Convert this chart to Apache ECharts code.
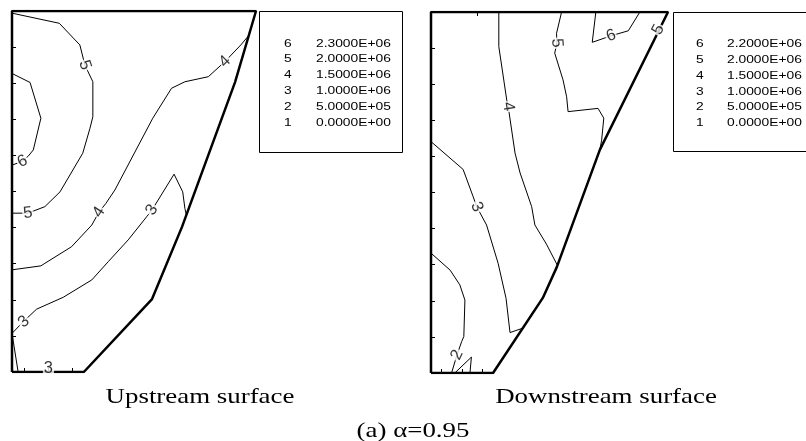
<!DOCTYPE html>
<html>
<head>
<meta charset="utf-8">
<script src="https://cdn.jsdelivr.net/npm/echarts@6/dist/echarts.min.js"></script>
<style>
html, body { margin: 0; padding: 0; background: #fff; }
#chart { width: 806px; height: 441px; }
</style>
</head>
<body>
<div id="chart"></div>
<script>
// contour levels and their values (legend)
const levels = ['6', '5', '4', '3', '2', '1']
const upValues = ['2.3000E+06', '2.0000E+06', '1.5000E+06', '1.0000E+06', '5.0000E+05', '0.0000E+00']
const dnValues = ['2.2000E+06', '2.0000E+06', '1.5000E+06', '1.0000E+06', '5.0000E+05', '0.0000E+00']
const captions = ['Upstream surface', 'Downstream surface', '(a) \u03b1=0.95']

// dam section outlines (x, y in section units)
const upOutline = [[0, 0], [0, 100], [67.6, 100], [61.8, 80.3], [47.1, 40.2], [38.8, 20.2], [19.9, 0], [0, 0]]
const dnOutline = [[0, 0], [0, 100], [65.7, 100], [46.8, 61.8], [34.9, 29.4], [31.0, 20.8], [17.2, 0], [0, 0]]

// upstream surface contours
const up5 = [[0, 99.4], [13.1, 96.6], [18.8, 90.6], [20.2, 85.0], [22.4, 80.4], [22.4, 70.7], [21.6, 67.5], [19.6, 60.6], [13.3, 49.9], [9.1, 45.8], [4.4, 44.0], [0, 44.0]]
const up6 = [[0, 82.7], [5.0, 80.2], [8.0, 70.3], [5.9, 61.5], [4.5, 59.8], [2.7, 58.3], [0, 57.3]]
const up4 = [[65.5, 93.1], [63.4, 90.6], [59.0, 86.0], [54.4, 81.8], [47.9, 80.4], [44.2, 78.6], [39.0, 70.3], [28.5, 50.4], [26.0, 46.7], [24.1, 44.3], [22.1, 40.7], [16.5, 34.7], [9.1, 30.1], [8.0, 29.4], [0, 28.3]]
const up3 = [[48.3, 43.5], [47.9, 45.3], [47.3, 49.9], [44.9, 54.8], [38.8, 44.9], [37.3, 43.0], [32.2, 36.6], [26.7, 30.6], [22.1, 25.5], [14.2, 20.7], [6.8, 17.4], [3.1, 13.9], [0, 10.7]]
const up3b = [[0, 10.7], [1.7, 0]]
const upLabels = [
    [20.2, 85.0, '5', -71], [2.9, 58.3, '6', 25], [4.4, 44.0, '5', 8],
    [24.1, 44.3, '4', 57], [59.0, 86.0, '4', 44], [38.8, 44.9, '3', 57],
    [3.3, 13.9, '3', 40], [10.1, 1.0, '3', 0]
]

// downstream surface contours
const dn4 = [[18.8, 100], [18.8, 90.4], [21.0, 75.6], [21.4, 73.8], [23.3, 60.9], [24.7, 55.4], [27.9, 46.1], [28.8, 41.0], [32.0, 35.7], [35.0, 29.9]]
const dn5 = [[36.2, 100], [34.8, 94.1], [34.9, 91.4], [34.3, 88.6], [36.6, 81.2], [37.6, 76.5], [38.0, 72.4], [46.3, 73.3], [47.9, 70.6], [47.3, 64.5], [46.8, 61.8]]
const dn6 = [[45.7, 100], [44.7, 91.6], [49.9, 93.4], [54.7, 94.8], [57.9, 100]]
const dn3 = [[0, 64.1], [8.9, 56.4], [11.7, 48.8], [12.7, 46.0], [15.4, 41.0], [18.6, 30.4], [20.8, 20.7], [21.9, 11.2], [25.4, 12.4]]
const dn2 = [[0, 33.2], [5.3, 28.5], [8.0, 24.4], [9.4, 20.2], [9.1, 10.1], [8.5, 8.7], [7.2, 5.0], [5.7, 0]]
const dn2b = [[6.6, 0], [11.2, 4.4], [10.8, 0]]
const dnLabels = [
    [21.4, 73.8, '4', -81], [34.9, 91.4, '5', -85], [49.9, 93.4, '6', 19],
    [63.0, 95.1, '5', 63], [12.7, 46.0, '3', -67], [7.2, 5.0, '2', 65]
]

// small ticks on the section edges
const upBottomTicks = [3.3, 10, 16.6]
const dnBottomTicks = [2.9, 8.6, 14.3]
const dnTopTicks = [12.9]

const chart = echarts.init(document.getElementById('chart'))

const lineSeries = (data, gi, width) => ({
    type: 'line',
    xAxisIndex: gi,
    yAxisIndex: gi,
    data: data,
    symbol: 'none',
    silent: true,
    animation: false,
    z: 2,
    lineStyle: { color: '#000', width: width },
})

const labelSeries = (items, gi) => ({
    type: 'scatter',
    xAxisIndex: gi,
    yAxisIndex: gi,
    symbolSize: 0,
    silent: true,
    animation: false,
    z: 5,
    label: {
        show: true,
        position: 'inside',
        color: '#000',
        fontFamily: 'Liberation Sans',
        fontSize: 16.5,
        lineHeight: 15,
        backgroundColor: '#fff',
        padding: [0, 1],
    },
    data: items.map(d => ({ value: [d[0], d[1]], label: { formatter: d[2], rotate: d[3] } })),
})

const xAxisBase = (gi, max, ticks, position) => ({
    type: 'value',
    gridIndex: gi,
    position: position,
    min: 0,
    max: max,
    axisLine: { show: false },
    axisLabel: { show: false },
    splitLine: { show: false },
    axisTick: { show: true, inside: true, length: 4, customValues: ticks, lineStyle: { color: '#000' } },
})

const yAxisBase = gi => ({
    type: 'value',
    gridIndex: gi,
    min: 0,
    max: 100,
    interval: 10,
    axisLine: { show: false },
    axisLabel: { show: false },
    splitLine: { show: false },
    axisTick: { show: true, inside: true, length: 4, lineStyle: { color: '#000' } },
})

const legendItems = (x0, x1, y0, values) => {
    const els = []
    levels.forEach((lv, i) => {
        const y = y0 + i * 15.8
        els.push({ type: 'text', x: x0, y: y, scaleX: 1.2, style: { text: lv, font: '11.5px "Liberation Sans"', fill: '#000', textVerticalAlign: 'middle' } })
        els.push({ type: 'text', x: x1, y: y, scaleX: 1.2, style: { text: values[i], font: '11.5px "Liberation Sans"', fill: '#000', textVerticalAlign: 'middle' } })
    })
    return els
}

const captionStyle = t => ({ text: t, font: '21px "Liberation Serif"', fill: '#000', textAlign: 'center', textVerticalAlign: 'middle' })

chart.setOption({
    backgroundColor: '#fff',
    animation: false,
    grid: [
        { left: 12, top: 11, width: 244, height: 361 },
        { left: 431, top: 12, width: 237, height: 361 },
    ],
    xAxis: [
        xAxisBase(0, 67.6, upBottomTicks, 'bottom'),
        xAxisBase(1, 65.7, dnBottomTicks, 'bottom'),
        xAxisBase(1, 65.7, dnTopTicks, 'top'),
    ],
    yAxis: [yAxisBase(0), yAxisBase(1)],
    series: [
        lineSeries(up5, 0, 1),
        lineSeries(up6, 0, 1),
        lineSeries(up4, 0, 1),
        lineSeries(up3, 0, 1),
        lineSeries(up3b, 0, 1),
        lineSeries(upOutline, 0, 2.5),
        labelSeries(upLabels, 0),
        lineSeries(dn4, 1, 1),
        lineSeries(dn5, 1, 1),
        lineSeries(dn6, 1, 1),
        lineSeries(dn3, 1, 1),
        lineSeries(dn2, 1, 1),
        lineSeries(dn2b, 1, 1),
        lineSeries(dnOutline, 1, 2.5),
        labelSeries(dnLabels, 1),
    ],
    graphic: [
        { type: 'rect', shape: { x: 259.5, y: 11.5, width: 143, height: 141 }, style: { fill: 'none', stroke: '#000', lineWidth: 1 } },
        { type: 'rect', shape: { x: 673.5, y: 12.5, width: 150, height: 139 }, style: { fill: 'none', stroke: '#000', lineWidth: 1 } },
        ...legendItems(284, 316, 43.5, upValues),
        ...legendItems(696, 727, 44, dnValues),
        { type: 'text', x: 200, y: 397, scaleX: 1.28, style: captionStyle(captions[0]) },
        { type: 'text', x: 606, y: 397, scaleX: 1.28, style: captionStyle(captions[1]) },
        { type: 'text', x: 413, y: 431, scaleX: 1.28, style: captionStyle(captions[2]) },
    ],
})
</script>
</body>
</html>
